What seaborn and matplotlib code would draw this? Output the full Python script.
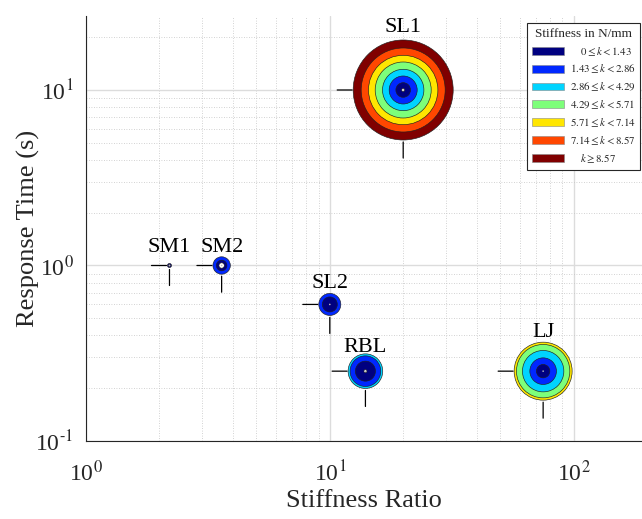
import numpy as np
import pandas as pd
import matplotlib
matplotlib.use("Agg")
import matplotlib.pyplot as plt
import matplotlib.ticker as mticker
from matplotlib.patches import Patch
import seaborn as sns

# ---------------- data ----------------
names = ["SM1", "SM2", "SL2", "RBL", "SL1", "LJ"]
stiffness_ratio = [2.2, 3.6, 10.0, 14.0, 20.0, 75.0]
response_time = [1.0, 1.0, 0.6, 0.25, 10.0, 0.25]

# outer radius (px) reached by each stiffness band (band 0 = softest ... band 6 = stiffest), 0 = absent
band_radius = {
    "SM1": [2.0, 0, 0, 0, 0, 0, 0],
    "SM2": [5.3, 8.7, 0, 0, 0, 0, 0],
    "SL2": [7.5, 11.0, 0, 0, 0, 0, 0],
    "RBL": [10.0, 15.3, 17.3, 0, 0, 0, 0],
    "SL1": [7.3, 14.0, 20.7, 28.0, 34.7, 42.0, 50.0],
    "LJ":  [6.7, 13.3, 20.7, 26.7, 29.0, 0, 0],
}
hole_radius = [0.9, 2.7, 0.0, 1.5, 1.5, 0.0]

band_edges = [0, 1.43, 2.86, 4.29, 5.71, 7.14, 8.57]
legend_labels = [
    r"$\quad\;0 \leq k < 1.43$",
    r"$1.43 \leq k < 2.86$",
    r"$2.86 \leq k < 4.29$",
    r"$4.29 \leq k < 5.71$",
    r"$5.71 \leq k < 7.14$",
    r"$7.14 \leq k < 8.57$",
    r"$\quad\;k \geq 8.57$",
]
legend_title = "Stiffness in N/mm"

# ---------------- style ----------------
DPI = 100
PT = 72.0 / DPI  # px -> pt
sns.set_style("white")
plt.rcParams["font.family"] = ["Liberation Serif", "DejaVu Serif"]
plt.rcParams["mathtext.fontset"] = "stix"

band_colors = [matplotlib.colors.to_hex(c) for c in plt.cm.jet(np.linspace(0, 1, 7))]
palette = {f"b{i}": band_colors[i] for i in range(7)}
palette["hole"] = "#ffffff"
palette["dot"] = "#bdbdbd"

# long-form table of rings
rows = []
for i, n in enumerate(names):
    for b, r in enumerate(band_radius[n]):
        if r > 0:
            rows.append(dict(name=n, x=stiffness_ratio[i], y=response_time[i], r=r, band=f"b{b}"))
    if hole_radius[i] > 0:
        rows.append(dict(name=n, x=stiffness_ratio[i], y=response_time[i], r=hole_radius[i], band="hole"))
    rows.append(dict(name=n, x=stiffness_ratio[i], y=response_time[i], r=0.8, band="dot"))
rings = pd.DataFrame(rows).sort_values("r", ascending=False, kind="stable").reset_index(drop=True)
rings["s"] = (2 * rings["r"] * PT) ** 2
rings["lw"] = np.where(rings["band"] == "dot", 0.0, 0.45)

fig = plt.figure(figsize=(6.42, 5.19), dpi=DPI)
ax = fig.add_axes([86 / 642, (519 - 441) / 519, (642 - 86) / 642, (441 - 16) / 519])

sns.scatterplot(data=rings, x="x", y="y", hue="band", palette=palette,
                s=rings["s"].values, linewidths=rings["lw"].values,
                edgecolor="#202020", legend=False, ax=ax, zorder=3)

ax.set_xscale("log")
ax.set_yscale("log")
ax.set_xlim(1, 190.8)
ax.set_ylim(0.1, 26.4)

# whiskers and labels
outer = [max(band_radius[n]) for n in names]
label_base = [13.7, 13.7, 16.0, 19.0, 58.0, 34.0]
for i, n in enumerate(names):
    x, y, r = stiffness_ratio[i], response_time[i], outer[i]
    ax.annotate("", xy=(x, y), xytext=(-(r + 16) * PT, 0), textcoords="offset points",
                arrowprops=dict(arrowstyle="-", color="k", lw=0.9, shrinkA=0, shrinkB=(r + 1) * PT),
                zorder=2)
    ax.annotate("", xy=(x, y), xytext=(0, -(r + 18) * PT), textcoords="offset points",
                arrowprops=dict(arrowstyle="-", color="k", lw=0.9, shrinkA=0, shrinkB=(r + 2) * PT),
                zorder=2)
    ax.annotate(n, xy=(x, y), xytext=(0, label_base[i] * PT), textcoords="offset points",
                ha="center", va="baseline", fontsize=16, color="black", zorder=4)


def pow_fmt(v, pos):
    e = int(round(np.log10(v)))
    sign = "-" if e < 0 else ""
    return "10$^{\\text{" + sign + str(abs(e)) + "}}$"


# axes styling
for s in ["top", "right"]:
    ax.spines[s].set_visible(False)
for s in ["left", "bottom"]:
    ax.spines[s].set_color("#262626")
    ax.spines[s].set_linewidth(0.8)
ax.xaxis.set_major_locator(mticker.LogLocator(base=10, numticks=10))
ax.yaxis.set_major_locator(mticker.LogLocator(base=10, numticks=10))
ax.xaxis.set_minor_locator(mticker.LogLocator(base=10, subs=np.arange(2, 10), numticks=20))
ax.yaxis.set_minor_locator(mticker.LogLocator(base=10, subs=np.arange(2, 10), numticks=20))
ax.xaxis.set_major_formatter(mticker.FuncFormatter(pow_fmt))
ax.yaxis.set_major_formatter(mticker.FuncFormatter(pow_fmt))
ax.xaxis.set_minor_formatter(mticker.NullFormatter())
ax.yaxis.set_minor_formatter(mticker.NullFormatter())
ax.tick_params(which="major", direction="in", length=5, width=0.8, color="#262626",
               labelsize=17, labelcolor="#262626")
ax.tick_params(axis="x", which="major", pad=14)
ax.tick_params(axis="y", which="major", pad=9)
ax.tick_params(which="minor", direction="in", length=3, width=0.6, color="#262626")
ax.grid(which="major", color="#dcdcdc", lw=1.0, ls="-")
ax.grid(which="minor", color="#c4c4c4", lw=0.6, ls=(0, (1, 2)))
ax.set_axisbelow(True)

ax.set_xlabel("Stiffness Ratio", fontsize=19, color="#262626", labelpad=3)
ax.set_ylabel("Response Time (s)", fontsize=19, color="#262626", labelpad=-3)

handles = [Patch(facecolor=c, edgecolor="#888888", linewidth=0.4) for c in band_colors]
leg = ax.legend(handles, legend_labels, title=legend_title, loc="upper right",
                bbox_to_anchor=(0.997, 0.984), borderaxespad=0, fontsize=7.8,
                title_fontsize=9.5, frameon=True, fancybox=False, framealpha=1,
                edgecolor="#262626", handlelength=3.0, handleheight=0.75,
                handletextpad=0.5, labelspacing=0.45, borderpad=0.45)
leg.get_frame().set_linewidth(0.8)
leg.set_zorder(10)

fig.savefig("out.png", dpi=DPI)
